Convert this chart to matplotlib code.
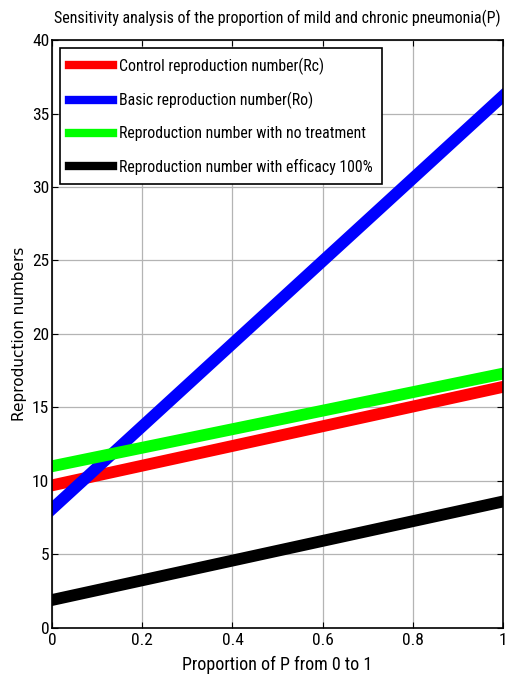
import matplotlib.pyplot as plt
import numpy as np

# proportion P and reproduction numbers
p = [0.0, 1.0]
rc = [9.7, 16.4]
r0 = [8.1, 36.2]
r_notreat = [11.0, 17.3]
r_eff100 = [1.9, 8.6]

labels = ['Control reproduction number(Rc)',
          'Basic reproduction number(Ro)',
          'Reproduction number with no treatment',
          'Reproduction number with efficacy 100%']

# narrow font, close to the MATLAB look
plt.rcParams['font.family'] = ['Roboto Condensed', 'DejaVu Sans']

fig = plt.figure(figsize=(5.06, 6.9), dpi=100)
ax = fig.add_axes([0.103, 0.09, 0.891, 0.852])

ax.plot(p, rc, color='#ff0000', lw=8.5, label=labels[0])
ax.plot(p, r0, color='#0000ff', lw=8.5, label=labels[1])
ax.plot(p, r_notreat, color='#00ff00', lw=8.5, label=labels[2])
ax.plot(p, r_eff100, color='#000000', lw=8.5, label=labels[3])

ax.set_xlim(0, 1)
ax.set_ylim(0, 40)
ax.set_xticks(np.arange(0, 1.01, 0.2))
ax.set_xticklabels(['0', '0.2', '0.4', '0.6', '0.8', '1'])
ax.set_yticks(range(0, 41, 5))
ax.grid(True, color='#b4b4b4', lw=0.9)
ax.tick_params(direction='in', labelsize=12.5, length=4, top=True, right=True)
ax.tick_params(axis='y', pad=2)
for s in ax.spines.values():
    s.set_linewidth(1.2)

ax.set_title('Sensitivity analysis of the proportion of mild and chronic pneumonia(P)',
             fontsize=11.5, pad=12)
ax.set_xlabel('Proportion of P from 0 to 1', fontsize=13, labelpad=6)
ax.set_ylabel('Reproduction numbers', fontsize=11, family='DejaVu Sans', labelpad=4)

leg = ax.legend(loc='upper left', fontsize=11.3, handlelength=2.8, handletextpad=0.35,
                borderaxespad=0.5, borderpad=0.6, fancybox=False, edgecolor='black',
                framealpha=1, labelspacing=1.1)
leg.get_frame().set_linewidth(1.2)
for h in leg.get_lines():
    h.set_linewidth(6)

fig.savefig('out.png', dpi=100)
